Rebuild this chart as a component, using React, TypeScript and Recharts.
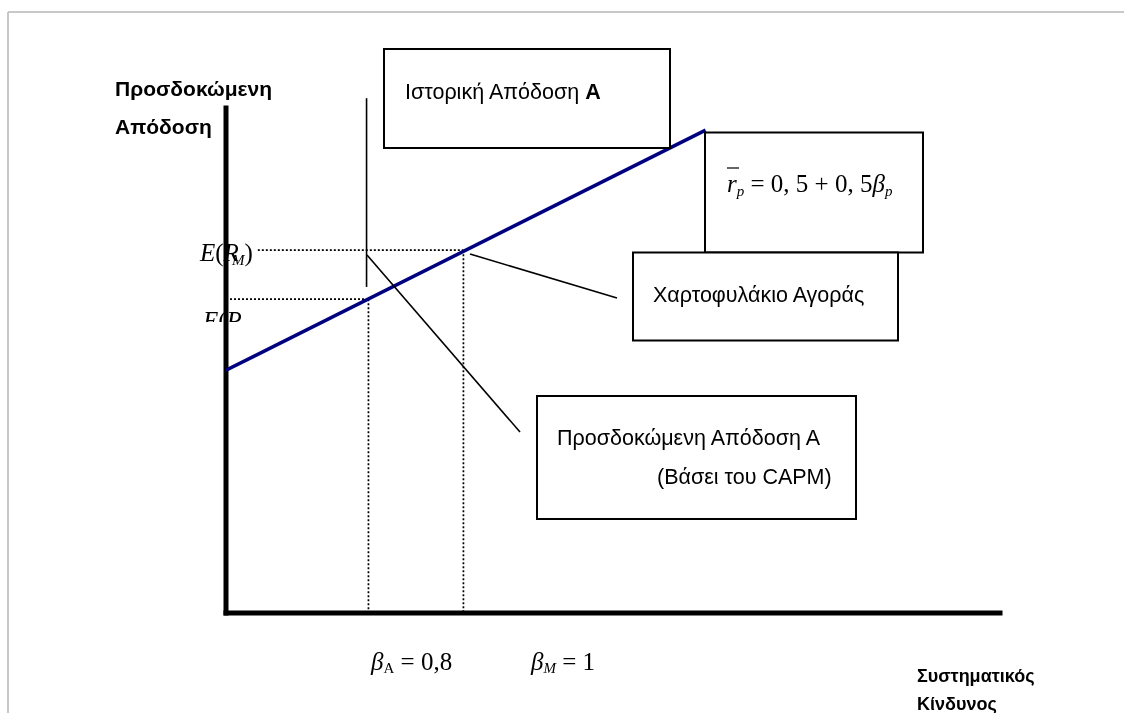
import React from "react";
import { ComposedChart, Line, XAxis, YAxis, ReferenceLine } from "recharts";

// ---- data ----
const smlBetas = [0.5, 1.51];
const smlReturns = [0.755, 1.245];
const betaA = 0.8;
const betaM = 1;
const expectedA = 0.9;
const expectedM = 1.0;
const historicalA = [0.925, 1.31];
const xDomain: [number, number] = [0.5, 2.13];
const yDomain: [number, number] = [0.26, 1.29];
const labelDotStart = 0.567;

const yTitle = ["Προσδοκώμενη", "Απόδοση"];
const xTitle = ["Συστηματικός", "Κίνδυνος"];
const histText = "Ιστορική Απόδοση ";
const marketText = "Χαρτοφυλάκιο Αγοράς";
const capmText = ["Προσδοκώμενη Απόδοση Α", "(Βάσει του CAPM)"];

const smlData = smlBetas.map((b, i) => ({ beta: b, r: smlReturns[i] }));

const W = 1108;
const H = 705;
const SANS = "'Liberation Sans', Arial, sans-serif";
const SERIF = "'Liberation Serif', 'Times New Roman', serif";
const BOX_FS = 21.5;

const dotted = { stroke: "#000", strokeWidth: 1.7, strokeDasharray: "2 2" };

function Overlay() {
  const box = { fill: "#fff", stroke: "#000", strokeWidth: 2 };
  return (
    <svg
      width={1124}
      height={713}
      style={{ position: "fixed", left: 0, top: 0, pointerEvents: "none" }}
    >
      <defs>
        <clipPath id="clipEA">
          <rect x={190} y={300} width={80} height={22} />
        </clipPath>
      </defs>
      {/* frame */}
      <line x1={8} y1={12} x2={1124} y2={12} stroke="#c8c8c8" strokeWidth={2} />
      <line x1={8} y1={12} x2={8} y2={713} stroke="#c8c8c8" strokeWidth={2} />

      {/* axis titles */}
      <g fontFamily={SANS} fontWeight="bold" fill="#000">
        <text x={115} y={88} fontSize={21} dominantBaseline="central">{yTitle[0]}</text>
        <text x={115} y={126} fontSize={21} dominantBaseline="central">{yTitle[1]}</text>
        <text x={917} y={676} fontSize={18} dominantBaseline="central">{xTitle[0]}</text>
        <text x={917} y={704} fontSize={18} dominantBaseline="central">{xTitle[1]}</text>
      </g>

      {/* connectors */}
      <line x1={367} y1={255} x2={520} y2={432} stroke="#000" strokeWidth={1.6} />
      <line x1={470} y1={254} x2={617} y2={298} stroke="#000" strokeWidth={1.6} />

      {/* boxes */}
      <rect x={384} y={49} width={286} height={99} {...box} />
      <text x={405} y={92} dominantBaseline="central" fontFamily={SANS} fontSize={BOX_FS}>
        {histText}
        <tspan fontWeight="bold">A</tspan>
      </text>

      <rect x={705} y={132.5} width={218} height={120} {...box} />
      <g fontFamily={SERIF} fontSize={25} fill="#000">
        <line x1={727} y1={168} x2={739} y2={168} stroke="#000" strokeWidth={1.2} />
        <text x={727} y={183} dominantBaseline="central">
          <tspan fontStyle="italic">r</tspan>
          <tspan fontStyle="italic" fontSize={15} dy={8}>p</tspan>
          <tspan dy={-8}> = 0, 5 + 0, 5</tspan>
          <tspan fontStyle="italic">β</tspan>
          <tspan fontStyle="italic" fontSize={15} dy={8}>p</tspan>
        </text>
      </g>

      <rect x={633} y={252.5} width={265} height={88} {...box} />
      <text x={653} y={295} dominantBaseline="central" fontFamily={SANS} fontSize={BOX_FS}>
        {marketText}
      </text>

      <rect x={537} y={396} width={319} height={123} {...box} />
      <text x={557} y={438} dominantBaseline="central" fontFamily={SANS} fontSize={BOX_FS}>
        {capmText[0]}
      </text>
      <text x={657} y={477} dominantBaseline="central" fontFamily={SANS} fontSize={BOX_FS}>
        {capmText[1]}
      </text>

      {/* E(R_M) label */}
      <g fontFamily={SERIF} fontSize={25} fill="#000">
        <text x={200} y={252} dominantBaseline="central">
          <tspan fontStyle="italic">E</tspan>
          <tspan>(</tspan>
          <tspan fontStyle="italic">R</tspan>
          <tspan fontStyle="italic" fontSize={15} dx={-7} dy={8}>M</tspan>
          <tspan dy={-8}>)</tspan>
        </text>
        <text x={203} y={329} clipPath="url(#clipEA)">
          <tspan fontStyle="italic">E</tspan>
          <tspan>(</tspan>
          <tspan fontStyle="italic">R</tspan>
        </text>
      </g>

      {/* beta labels */}
      <g fontFamily={SERIF} fontSize={25} fill="#000">
        <text x={371} y={661} dominantBaseline="central">
          <tspan fontStyle="italic">β</tspan>
          <tspan fontSize={15} dy={7}>A</tspan>
          <tspan dy={-7}> = 0,8</tspan>
        </text>
        <text x={531} y={661} dominantBaseline="central">
          <tspan fontStyle="italic">β</tspan>
          <tspan fontStyle="italic" fontSize={15} dy={7}>M</tspan>
          <tspan dy={-7}> = 1</tspan>
        </text>
      </g>
    </svg>
  );
}

export default function App() {
  return (
    <div style={{ position: "relative", width: W, height: H, background: "#fff" }}>
      <ComposedChart
        width={W}
        height={H}
        data={smlData}
        margin={{ top: 100, right: 116, bottom: 100, left: 218 }}
      >
        <XAxis type="number" dataKey="beta" domain={xDomain} hide allowDataOverflow />
        <YAxis type="number" domain={yDomain} hide allowDataOverflow />
        {/* dotted guides */}
        <ReferenceLine segment={[{ x: labelDotStart, y: expectedM }, { x: betaM, y: expectedM }]} {...dotted} ifOverflow="visible" />
        <ReferenceLine segment={[{ x: xDomain[0], y: expectedA }, { x: betaA, y: expectedA }]} {...dotted} ifOverflow="visible" />
        <ReferenceLine segment={[{ x: betaA, y: expectedA }, { x: betaA, y: yDomain[0] }]} {...dotted} ifOverflow="visible" />
        <ReferenceLine segment={[{ x: betaM, y: expectedM }, { x: betaM, y: yDomain[0] }]} {...dotted} ifOverflow="visible" />
        {/* historical return marker */}
        <ReferenceLine segment={[{ x: betaA - 0.004, y: historicalA[0] }, { x: betaA - 0.004, y: historicalA[1] }]} stroke="#000" strokeWidth={1.6} ifOverflow="visible" />
        {/* axes */}
        <ReferenceLine segment={[{ x: xDomain[0], y: yDomain[0] }, { x: xDomain[0], y: yDomain[1] }]} stroke="#000" strokeWidth={5} strokeLinecap="square" ifOverflow="visible" />
        <ReferenceLine segment={[{ x: xDomain[0], y: yDomain[0] }, { x: xDomain[1], y: yDomain[0] }]} stroke="#000" strokeWidth={5} strokeLinecap="square" ifOverflow="visible" />
        <Line
          type="linear"
          dataKey="r"
          stroke="#000080"
          strokeWidth={3.5}
          dot={false}
          activeDot={false}
          isAnimationActive={false}
        />
      </ComposedChart>
      <Overlay />
    </div>
  );
}
